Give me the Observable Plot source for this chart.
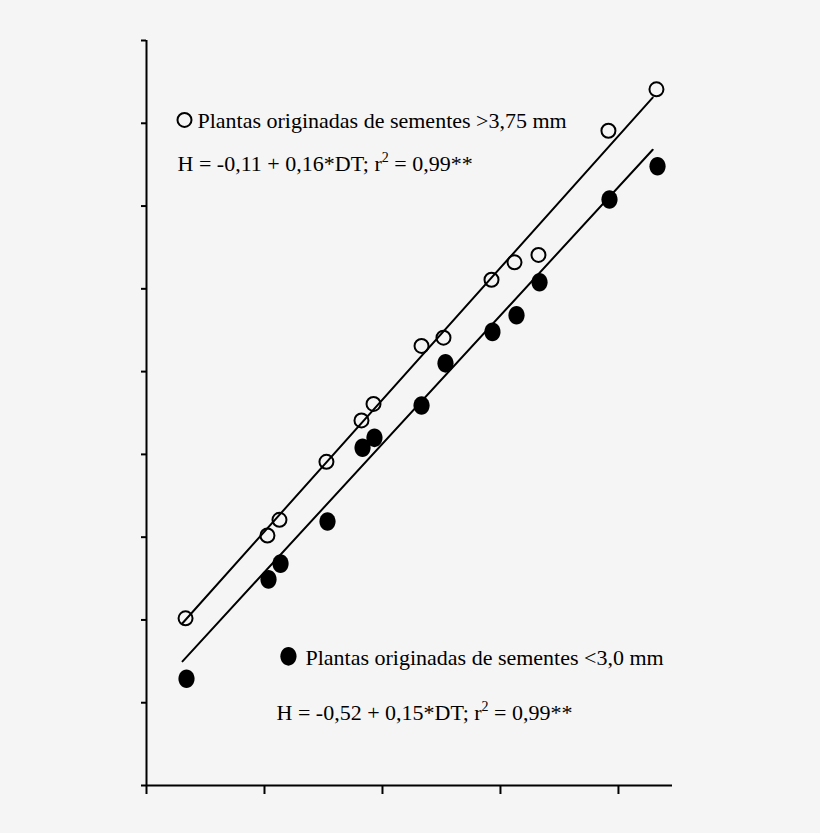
<!DOCTYPE html>
<html>
<head>
<meta charset="utf-8">
<script src="https://cdn.jsdelivr.net/npm/d3@7"></script>
<script src="https://cdn.jsdelivr.net/npm/@observablehq/plot@0.6"></script>
<style>
  html, body { margin: 0; padding: 0; background: #f5f5f5; }
  #chart svg { display: block; }
</style>
</head>
<body>
<div id="chart"></div>
<script>
// DT values (x) and H values (y)
const dtOpen   = [13.31, 20.25, 21.27, 25.25, 28.22, 29.24, 33.31, 35.17, 39.24, 41.19, 43.22, 49.15, 53.22];
const hOpen    = [2.02, 3.02, 3.21, 3.91, 4.41, 4.61, 5.31, 5.41, 6.11, 6.32, 6.41, 7.91, 8.41];
const dtFilled = [13.39, 20.34, 21.36, 25.34, 28.31, 29.32, 33.31, 35.34, 39.32, 41.36, 43.31, 49.24, 53.31];
const hFilled  = [1.29, 2.49, 2.68, 3.19, 4.08, 4.20, 4.59, 5.10, 5.48, 5.68, 6.08, 7.08, 7.48];

// fitted lines as drawn (end points)
const lineDT      = [13.05, 52.9];
const lineHOpen   = [1.96, 8.31];
const lineHFilled = [1.50, 7.68];

const xTicks = [10, 20, 30, 40, 50];
const yTicks = [0, 1, 2, 3, 4, 5, 6, 7, 8, 9];
const xDomain = [10, 54.58];
const yDomain = [0, 9];

const legendOpen   = "Plantas originadas de sementes >3,75 mm";
const eqOpen       = "H = -0,11 + 0,16*DT; r² = 0,99**";
const legendFilled = "Plantas originadas de sementes <3,0 mm";
const eqFilled     = "H = -0,52 + 0,15*DT; r² = 0,99**";

const openPts   = dtOpen.map((d, i) => ({dt: d, h: hOpen[i]}));
const filledPts = dtFilled.map((d, i) => ({dt: d, h: hFilled[i]}));
const lineOpen   = lineDT.map((d, i) => ({dt: d, h: lineHOpen[i]}));
const lineFilled = lineDT.map((d, i) => ({dt: d, h: lineHFilled[i]}));

// slightly tall ellipse symbol for the filled markers
const ellipse = {
  draw(ctx, size) {
    const r = Math.sqrt(size / Math.PI);
    const rx = r * 0.87, ry = r, k = 0.5523;
    ctx.moveTo(0, -ry);
    ctx.bezierCurveTo(k * rx, -ry, rx, -k * ry, rx, 0);
    ctx.bezierCurveTo(rx, k * ry, k * rx, ry, 0, ry);
    ctx.bezierCurveTo(-k * rx, ry, -rx, k * ry, -rx, 0);
    ctx.bezierCurveTo(-rx, -k * ry, -k * rx, -ry, 0, -ry);
    ctx.closePath();
  }
};

const font = "'Liberation Serif', 'Times New Roman', serif";

const chart = Plot.plot({
  width: 820,
  height: 833,
  marginLeft: 146,
  marginRight: 148,
  marginTop: 40,
  marginBottom: 48,
  style: {background: "#f5f5f5", fontFamily: font, color: "#000"},
  x: {domain: xDomain},
  y: {domain: yDomain},
  marks: [
    Plot.axisX({ticks: xTicks, tickSize: 9, tickFormat: () => "", label: null, strokeWidth: 2}),
    Plot.axisY({ticks: yTicks, tickSize: 5, tickFormat: () => "", label: null, strokeWidth: 2}),
    Plot.ruleX([xDomain[0]], {y1: yDomain[0], y2: yDomain[1], strokeWidth: 2}),
    Plot.ruleY([yDomain[0]], {x1: xDomain[0], x2: xDomain[1], strokeWidth: 2}),
    Plot.line(lineOpen, {x: "dt", y: "h", stroke: "#000", strokeWidth: 2}),
    Plot.line(lineFilled, {x: "dt", y: "h", stroke: "#000", strokeWidth: 2}),
    Plot.dot(openPts, {x: "dt", y: "h", r: 7, stroke: "#000", strokeWidth: 2, fill: "none"}),
    Plot.dot(filledPts, {x: "dt", y: "h", r: 9.3, symbol: ellipse, fill: "#000", stroke: "none"}),
    // legend / annotations
    Plot.dot([{dt: 13.22, h: 8.04}], {x: "dt", y: "h", r: 7, stroke: "#000", strokeWidth: 2, fill: "none"}),
    Plot.text([legendOpen], {x: 14.32, y: 8.03, text: d => d, textAnchor: "start", fontSize: 22, fill: "#000"}),
    Plot.text([eqOpen], {x: 12.63, y: 7.51, text: d => d, textAnchor: "start", fontSize: 22, fill: "#000"}),
    Plot.dot([{dt: 22.03, h: 1.56}], {x: "dt", y: "h", r: 9.3, symbol: ellipse, fill: "#000", stroke: "none"}),
    Plot.text([legendFilled], {x: 23.47, y: 1.54, text: d => d, textAnchor: "start", fontSize: 22, fill: "#000"}),
    Plot.text([eqFilled], {x: 21.02, y: 0.88, text: d => d, textAnchor: "start", fontSize: 22, fill: "#000"})
  ]
});

// turn "r²" into a real superscript
d3.select(chart).selectAll("text").each(function () {
  const t = this.textContent;
  if (!t.includes("²")) return;
  const [a, b] = t.split("²");
  const sel = d3.select(this);
  sel.text(null);
  sel.append("tspan").text(a.replace(/ $/, ""));
  sel.append("tspan").attr("font-size", 14).attr("dy", -9).text("2");
  sel.append("tspan").attr("dy", 9).text(b);
});

document.getElementById("chart").append(chart);
</script>
</body>
</html>
